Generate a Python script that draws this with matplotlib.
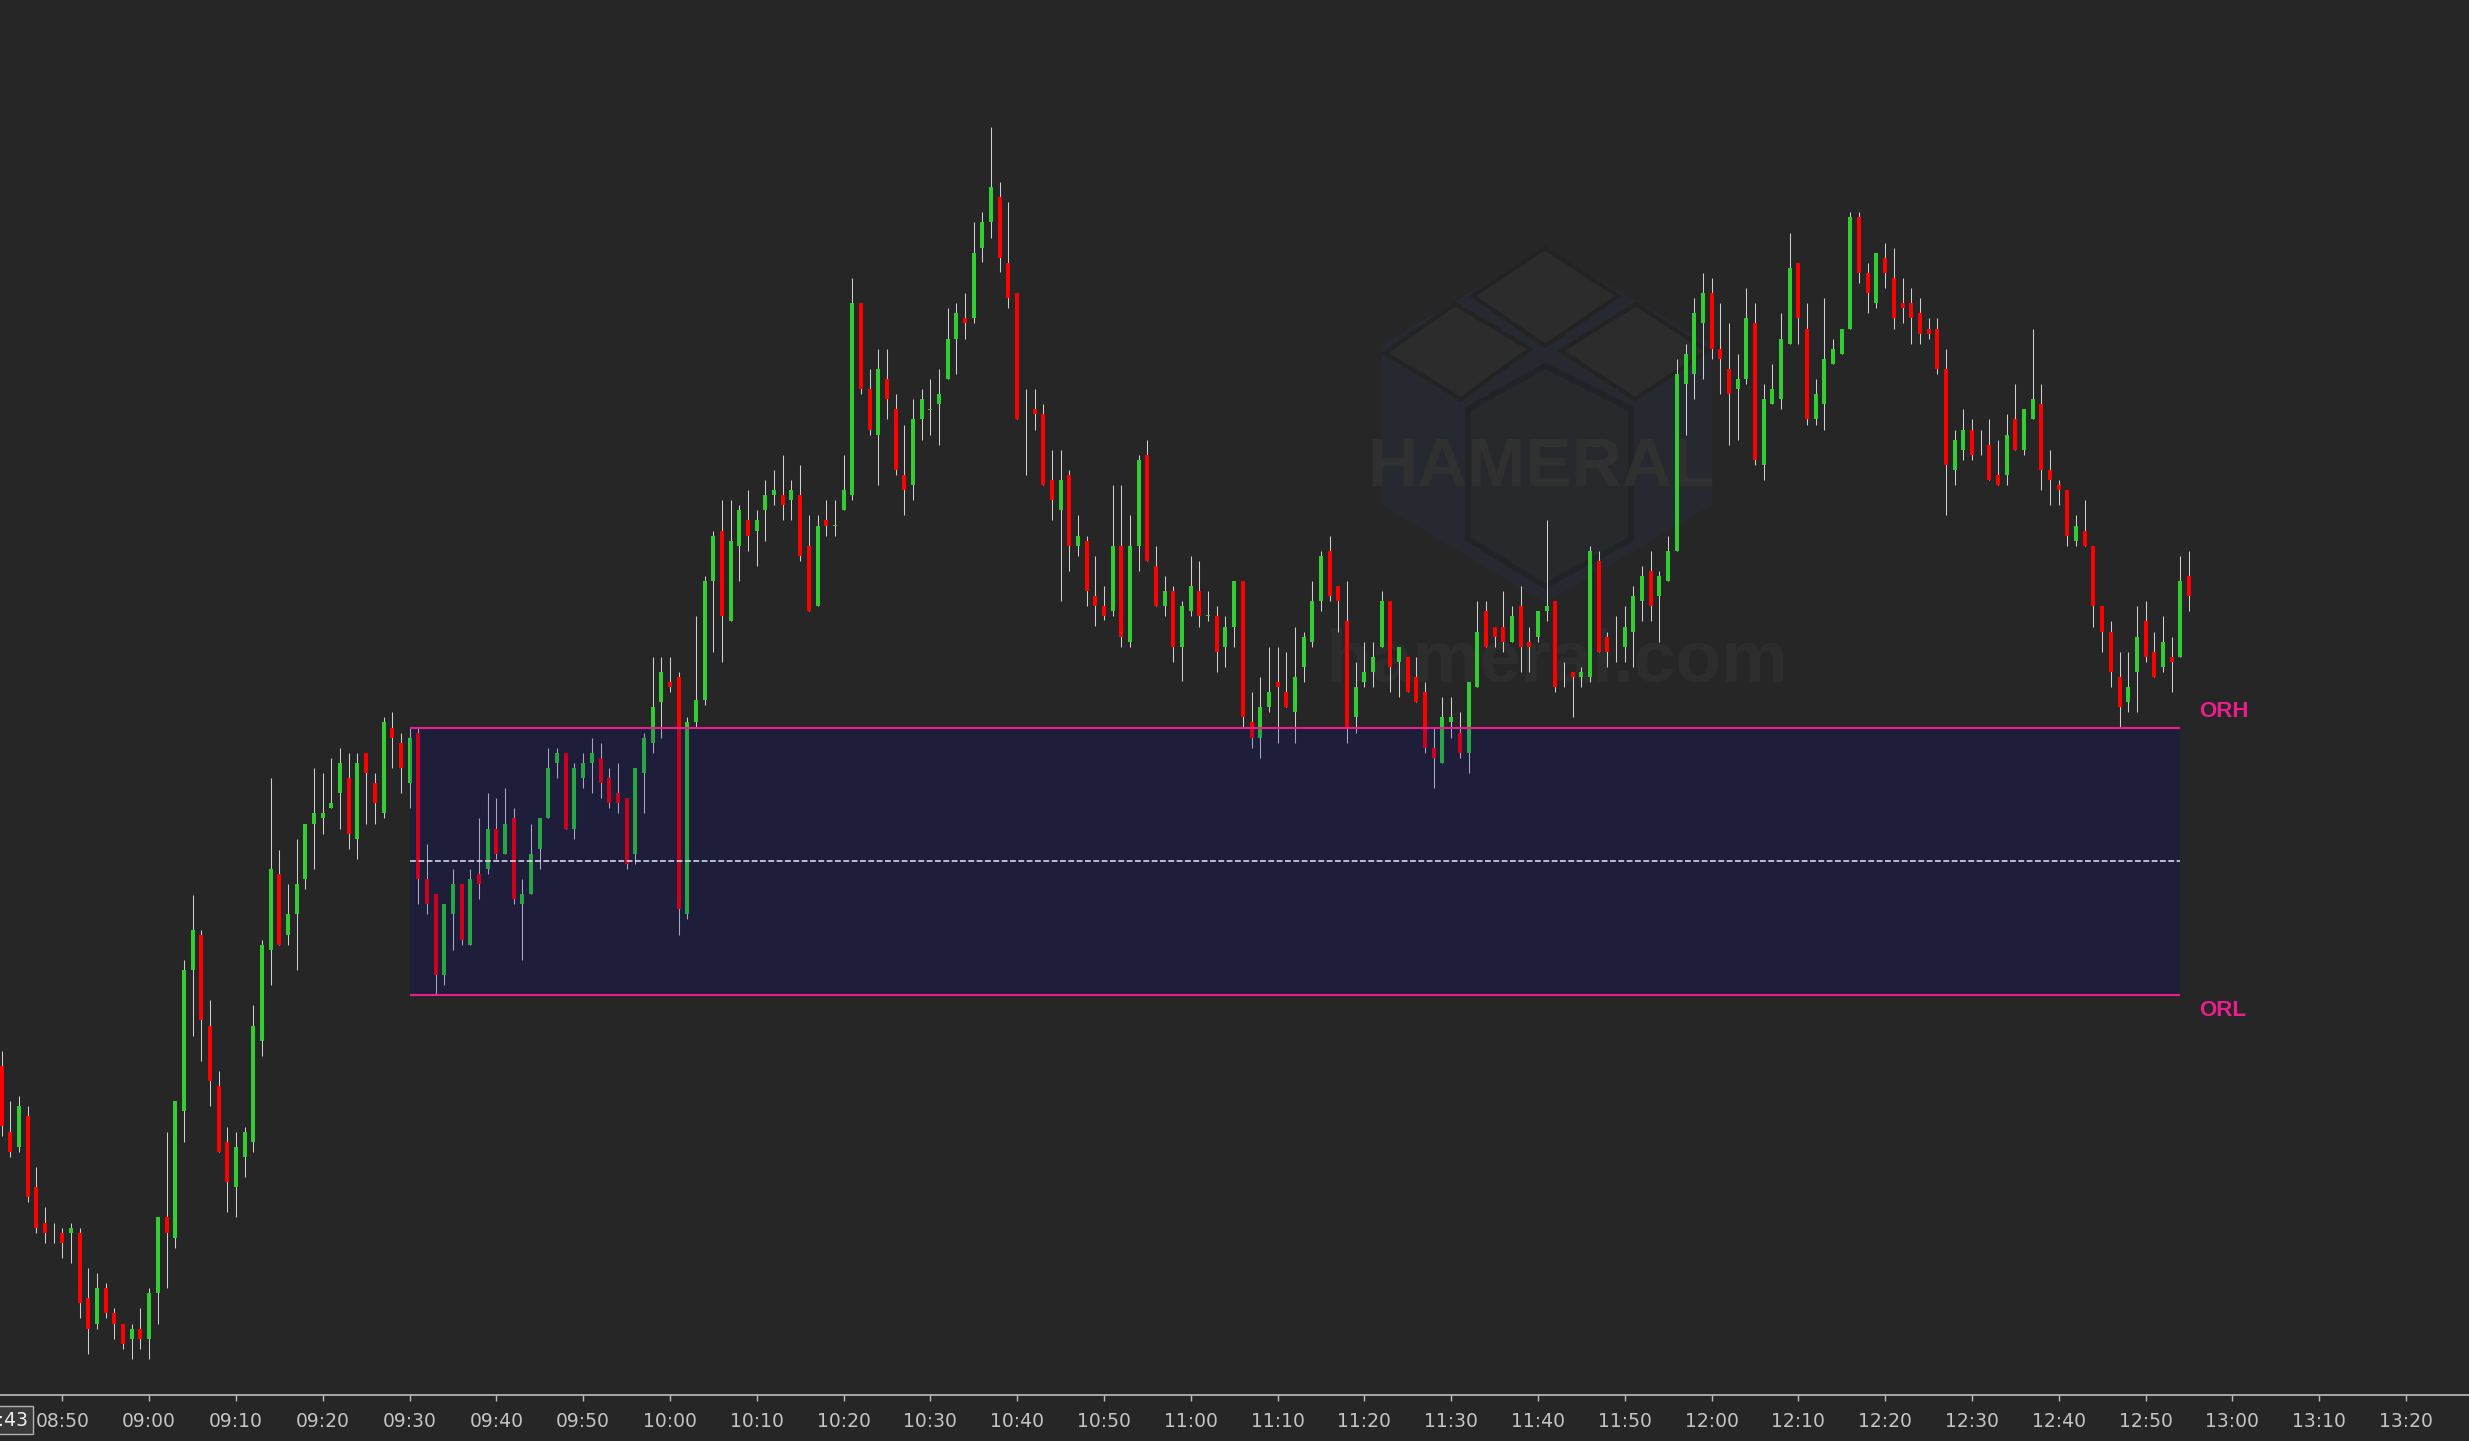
import matplotlib
matplotlib.use('Agg')
import matplotlib.pyplot as plt
from matplotlib.patches import Rectangle, Polygon
from matplotlib.transforms import blended_transform_factory
import numpy as np

# ---------------- data (1-minute candles starting 08:43) ----------------
session_start = "08:43"
opens = [334,268,253,284,213,177,167,167,167,167,102,76,112,87,76,61,71,61,107,183,
         162,289,430,465,374,314,258,213,243,258,359,450,526,465,486,521,576,582,592,607,
         622,561,647,617,587,672,657,617,667,521,506,425,486,516,455,526,531,571,546,582,
         496,506,551,582,637,647,571,622,637,642,622,607,602,546,627,657,698,718,723,486,
         678,700,819,869,779,854,880,869,890,905,905,900,905,854,794,880,874,890,905,1097,
         1011,965,1021,991,925,915,981,990,996,1021,1061,1082,1082,1152,1178,1203,1137,1107,970,991,
         986,920,890,925,854,859,804,794,789,854,758,854,945,834,794,809,753,789,809,784,
         784,753,773,819,678,662,693,718,708,688,733,758,799,849,814,779,683,718,728,753,
         799,738,743,723,708,652,637,678,667,647,713,789,773,773,758,794,758,763,789,799,
         725,728,723,723,839,763,758,753,768,799,829,804,819,849,1016,1026,1077,1107,1051,1031,
         1011,1021,1077,935,996,1001,1056,1137,1071,981,996,1036,1046,1071,1183,1127,1097,1142,1122,1097,
         1097,1087,1071,1071,1031,930,950,970,955,955,925,925,981,950,981,996,930,915,910,859,
         869,854,794,768,723,698,728,779,748,733,743,743,824]
highs = [349,299,304,294,233,193,177,172,177,172,132,127,117,92,76,76,92,112,183,268,
         299,440,505,470,400,329,273,268,273,395,460,622,550,516,561,576,632,627,642,652,
         647,647,647,627,683,688,667,672,672,556,506,496,531,516,531,582,607,602,612,592,
         521,576,582,652,652,647,637,647,662,657,632,637,602,632,667,743,743,743,728,683,
         784,824,869,900,900,895,910,890,920,930,945,920,935,885,885,900,900,945,1122,1097,
         1031,1051,1051,1006,975,1001,1011,1021,1031,1092,1097,1107,1178,1188,1273,1218,1198,1107,1011,1011,
         996,950,950,930,885,864,844,814,915,915,885,945,960,854,824,814,799,844,839,809,
         794,784,819,819,708,723,753,753,748,773,768,819,849,864,814,819,738,758,758,809,
         799,753,743,743,718,672,703,703,688,718,799,799,773,809,794,814,773,789,880,799,
         738,728,733,854,849,768,784,794,814,834,849,829,864,1041,1056,1102,1127,1122,1097,1077,
         1046,1112,1097,1016,1036,1087,1167,1137,1097,1021,1102,1061,1071,1188,1188,1137,1147,1157,1152,1122,
         1112,1102,1082,1082,1051,970,991,981,970,981,960,986,1016,991,1071,1016,950,920,910,885,
         900,854,794,779,748,748,794,799,768,784,763,844,849]
lows = [264,243,248,198,167,157,157,142,137,82,46,71,82,61,51,41,51,41,76,112,
        152,258,364,339,294,248,188,183,223,248,344,415,455,455,430,511,531,566,592,571,
        551,541,576,576,582,632,607,592,496,486,406,415,450,455,455,501,526,541,546,496,
        440,506,531,582,622,571,561,612,607,602,592,587,531,536,587,647,662,708,465,481,
        672,695,748,738,779,819,849,834,859,895,880,880,839,789,794,864,864,890,900,1006,
        965,915,981,925,885,900,960,965,955,1021,1026,1061,1077,1138,1162,1128,1092,981,925,970,
        915,880,799,829,844,794,774,780,784,753,753,829,839,794,784,738,719,784,773,779,
        728,733,753,673,652,642,688,657,693,657,718,753,789,799,768,657,667,713,713,753,
        708,703,708,698,647,612,637,662,642,627,713,753,753,748,758,728,728,758,779,708,
        713,683,713,718,748,733,738,738,733,779,779,758,819,849,965,1001,1021,1041,1006,955,
        960,1016,935,920,996,991,1056,1056,975,975,970,1036,1046,1071,1117,1087,1092,1112,1071,1077,
        1056,1056,1061,1026,885,915,940,940,945,920,915,915,950,945,981,910,895,895,854,854,
        854,773,748,713,673,688,688,738,723,728,708,743,789]
closes = [274,248,294,203,172,167,167,157,172,97,71,112,87,76,56,71,61,107,183,167,
          299,430,470,380,319,248,218,253,268,374,455,531,455,486,516,576,587,587,597,637,
          566,637,627,597,678,662,632,662,521,496,425,496,516,460,521,516,571,546,576,501,
          506,546,582,632,647,571,632,637,647,617,597,597,536,632,662,693,728,713,491,678,
          700,819,864,784,859,890,864,880,905,910,895,910,844,789,874,874,875,910,1097,1011,
          970,1031,1001,930,910,981,1001,991,1006,1061,1087,1077,1147,1178,1213,1142,1102,981,970,986,
          915,900,920,854,864,809,794,784,854,763,854,940,839,794,809,753,794,814,784,785,
          748,773,819,683,662,693,708,713,693,723,763,799,844,804,799,673,713,728,743,799,
          733,753,708,698,652,642,683,683,647,718,768,753,763,758,784,753,753,789,794,713,
          725,723,728,849,748,748,758,773,804,824,794,824,849,1026,1046,1087,1107,1051,1041,1006,
          1021,1082,940,1001,1011,1061,1132,1082,981,1006,1041,1051,1071,1183,1127,1107,1147,1127,1082,1092,
          1082,1066,1066,1031,935,960,970,945,955,920,915,965,950,991,1001,930,920,910,864,874,
          854,794,768,728,693,713,763,743,723,758,738,819,804]

or_high = 672.5
or_low = 405.0
or_start_time = "09:30"
or_end_time = "12:54"
tick_times = ["08:50","09:00","09:10","09:20","09:30","09:40","09:50","10:00","10:10","10:20",
              "10:30","10:40","10:50","11:00","11:10","11:20","11:30","11:40","11:50","12:00",
              "12:10","12:20","12:30","12:40","12:50","13:00","13:10","13:20"]
cursor_time = "08:43"

# ---------------- helpers ----------------
def tmin(s):
    hh, mm = s.split(":")
    return int(hh) * 60 + int(mm)

t0 = tmin(session_start)
def idx(s):
    return tmin(s) - t0

o = np.array(opens, float); h = np.array(highs, float)
l = np.array(lows, float); c = np.array(closes, float)
n = len(o)
x = np.arange(n)

BG = '#262626'
GREEN = '#32cd32'
RED = '#ff0000'
WICK = '#cfcfcf'
PINK = '#ea1e8c'

W, H = 2469, 1441
fig = plt.figure(figsize=(W / 100, H / 100), dpi=100, facecolor=BG)

# ---------------- watermark (pixel coordinates) ----------------
wm = fig.add_axes([0, 0, 1, 1], zorder=0)
wm.set_xlim(0, W); wm.set_ylim(H, 0); wm.axis('off')
wm.set_facecolor(BG)
outer = [(1545, 248), (1712, 345), (1712, 505), (1545, 603), (1382, 505), (1382, 345)]
wm.add_patch(Polygon(outer, closed=True, facecolor='#272931', edgecolor='none'))
for pts in ([(1473, 296), (1545, 248), (1618, 296), (1545, 346)],
            [(1385, 353), (1455, 304), (1530, 349), (1461, 399)],
            [(1561, 351), (1636, 304), (1708, 351), (1635, 399)]):
    wm.add_patch(Polygon(pts, closed=True, facecolor='#2c2c2d', edgecolor='#232324', lw=3))
inner = [(1468, 409), (1545, 366), (1631, 409), (1631, 539), (1545, 586), (1468, 539)]
wm.add_patch(Polygon(inner, closed=True, facecolor='#28292d', edgecolor='#222326', lw=4))
wm.text(1541, 468, "HAMERAL", ha='center', va='center', fontsize=50, fontweight='bold',
        family=['Liberation Sans', 'DejaVu Sans'], color='#303030')
wm.text(1557, 681, "hameral.com", ha='center', va='baseline', fontsize=54, fontweight='bold',
        family=['Liberation Sans', 'DejaVu Sans'], color='#2d2d2d')

# ---------------- main chart ----------------
bottom_px = 1395.3
ax = fig.add_axes([0, (H - bottom_px) / H, 1, bottom_px / H], zorder=1)
ax.set_facecolor('none')
px_per_min = 8.68
x_left = -1.6 / px_per_min
ax.set_xlim(x_left, x_left + W / px_per_min)
ax.set_ylim(1400 - bottom_px, 1400)

up = c >= o
ax.vlines(x, l, h, color=WICK, lw=0.75, zorder=2)
body_lo = np.minimum(o, c)
body_h = np.abs(c - o)
ax.bar(x[up], body_h[up], bottom=body_lo[up], width=0.46, color=GREEN, lw=0, zorder=2.5)
ax.bar(x[~up], body_h[~up], bottom=body_lo[~up], width=0.46, color=RED, lw=0, zorder=2.5)

# opening range box
xs, xe = idx(or_start_time), idx(or_end_time)
ax.add_patch(Rectangle((xs, or_low), xe - xs, or_high - or_low, facecolor=(0.0, 0.0, 0.58),
                       alpha=0.19, lw=0, zorder=3))
ax.hlines([or_high, or_low], xs, xe, color=PINK, lw=1.5, zorder=4)
ax.hlines((or_high + or_low) / 2, xs, xe, color='#d6d6ee', lw=1.2,
          linestyles=(0, (3.5, 1.5)), zorder=4)
lab_x = xe + 2.2
ax.text(lab_x, or_high + 16, "ORH", color=PINK, fontsize=16, fontweight='bold',
        family=['Liberation Sans', 'DejaVu Sans'], ha='left', va='center', zorder=5)
ax.text(lab_x, or_low - 15, "ORL", color=PINK, fontsize=16, fontweight='bold',
        family=['Liberation Sans', 'DejaVu Sans'], ha='left', va='center', zorder=5)

# axes styling
for s in ('top', 'right', 'left'):
    ax.spines[s].set_visible(False)
ax.spines['bottom'].set_color('#bdbdbd')
ax.spines['bottom'].set_linewidth(1.2)
ax.set_yticks([])
ax.set_xticks([idx(t) for t in tick_times])
ax.set_xticklabels(tick_times, family=['Liberation Sans Narrow', 'DejaVu Sans'],
                   fontsize=13.5, color='#c4c4c4')
ax.tick_params(axis='x', direction='out', length=4, width=1, color='#bdbdbd', pad=8)

# cursor time label at bottom-left
tr = blended_transform_factory(ax.transData, fig.transFigure)
fig.text(idx(cursor_time), (H - 1420) / H, cursor_time, transform=tr, ha='center', va='center',
         family=['Liberation Sans Narrow', 'DejaVu Sans'], fontsize=13.5, color='#f0f0f0',
         bbox=dict(boxstyle='square,pad=0.25', facecolor='#3a3a3a', edgecolor='#b0b0b0', lw=1),
         zorder=6)

fig.savefig('out.png', dpi=100, facecolor=BG)
